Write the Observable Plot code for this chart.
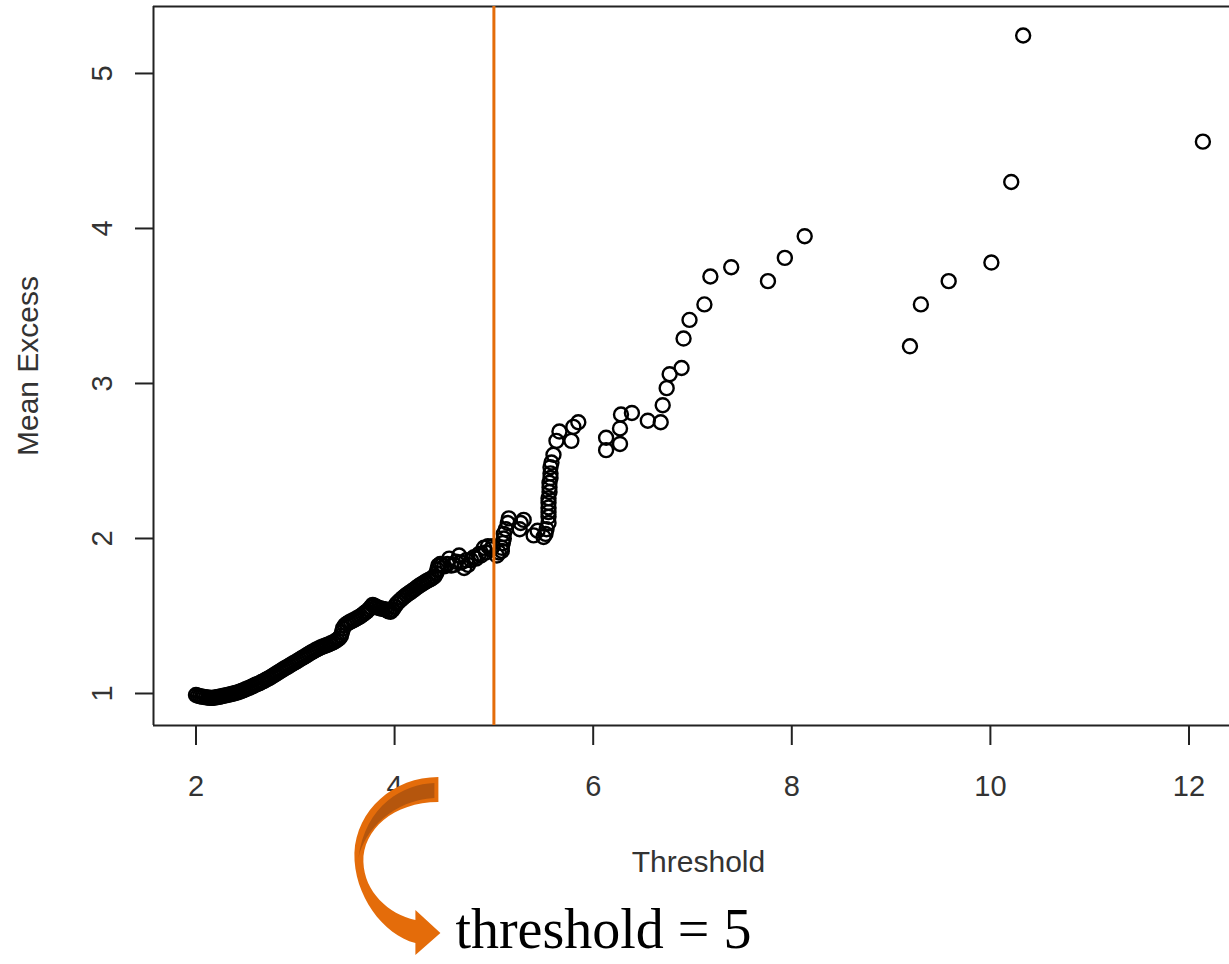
<!DOCTYPE html>
<html>
<head>
<meta charset="utf-8">
<script src="https://cdn.jsdelivr.net/npm/d3@7"></script>
<script src="https://cdn.jsdelivr.net/npm/@observablehq/plot@0.6"></script>
<style>
  html, body { margin: 0; padding: 0; background: #fff; }
  #chart { width: 1229px; height: 964px; overflow: hidden; }
</style>
</head>
<body>
<div id="chart"></div>
<script>
// Mean excess plot: threshold (x) vs mean excess (y)
const threshold = [
  2.00, 2.02, 2.04, 2.06, 2.08, 2.10, 2.12, 2.14, 2.16, 2.18,
  2.20, 2.22, 2.24, 2.26, 2.28, 2.30, 2.32, 2.34, 2.36, 2.38,
  2.40, 2.42, 2.44, 2.46, 2.48, 2.50, 2.52, 2.54, 2.56, 2.58,
  2.60, 2.62, 2.64, 2.66, 2.68, 2.70, 2.72, 2.74, 2.76, 2.78,
  2.80, 2.82, 2.84, 2.86, 2.88, 2.90, 2.92, 2.94, 2.96, 2.98,
  3.00, 3.02, 3.04, 3.06, 3.08, 3.10, 3.12, 3.14, 3.16, 3.18,
  3.20, 3.22, 3.24, 3.26, 3.28, 3.30, 3.32, 3.34, 3.36, 3.38,
  3.40, 3.42, 3.44, 3.46, 3.47, 3.48, 3.50, 3.52, 3.54, 3.56,
  3.58, 3.60, 3.62, 3.64, 3.66, 3.68, 3.70, 3.72, 3.74, 3.76,
  3.78, 3.80, 3.82, 3.84, 3.86, 3.88, 3.90, 3.92, 3.94, 3.96,
  3.98, 4.00, 4.02, 4.04, 4.06, 4.08, 4.10, 4.12, 4.14, 4.16,
  4.18, 4.20, 4.22, 4.24, 4.26, 4.28, 4.30, 4.32, 4.34, 4.36,
  4.38, 4.40, 4.42, 4.43, 4.44, 4.46, 4.48, 4.50, 4.53, 4.55,
  4.57, 4.60, 4.62, 4.65, 4.67, 4.70, 4.72, 4.74, 4.77, 4.80,
  4.82, 4.85, 4.87, 4.90, 4.92, 4.94, 4.97, 4.99,
  5.03, 5.05, 5.08, 5.08, 5.09, 5.10, 5.10, 5.12, 5.14, 5.15,
  5.26, 5.27, 5.30, 5.40, 5.44, 5.50, 5.52, 5.53,
  5.55, 5.55, 5.55, 5.55, 5.55, 5.55, 5.56, 5.56, 5.56, 5.57,
  5.57, 5.57, 5.58, 5.60, 5.63, 5.66, 5.78, 5.80, 5.85,
  6.13, 6.13, 6.27, 6.27, 6.28, 6.39, 6.55, 6.68, 6.70, 6.74,
  6.77, 6.89, 6.91, 6.97, 7.12, 7.18, 7.39, 7.76, 7.93, 8.13,
  9.19, 9.30, 9.58, 10.01, 10.21, 10.33, 12.14
];
const meanExcess = [
  0.990, 0.985, 0.982, 0.980, 0.978, 0.975, 0.974, 0.972, 0.972, 0.973,
  0.975, 0.977, 0.979, 0.982, 0.985, 0.988, 0.991, 0.994, 0.997, 1.000,
  1.003, 1.007, 1.012, 1.017, 1.022, 1.027, 1.032, 1.038, 1.044, 1.050,
  1.056, 1.061, 1.067, 1.074, 1.080, 1.087, 1.094, 1.101, 1.109, 1.117,
  1.125, 1.133, 1.141, 1.149, 1.157, 1.165, 1.172, 1.180, 1.188, 1.195,
  1.202, 1.210, 1.218, 1.226, 1.233, 1.241, 1.249, 1.257, 1.265, 1.272,
  1.279, 1.286, 1.292, 1.298, 1.303, 1.308, 1.313, 1.318, 1.324, 1.330,
  1.337, 1.345, 1.355, 1.372, 1.395, 1.420, 1.440, 1.450, 1.458, 1.465,
  1.472, 1.478, 1.485, 1.492, 1.500, 1.510, 1.520, 1.530, 1.542, 1.556,
  1.572, 1.565, 1.558, 1.552, 1.549, 1.546, 1.543, 1.538, 1.530, 1.527,
  1.540, 1.560, 1.578, 1.592, 1.603, 1.615, 1.626, 1.636, 1.645, 1.654,
  1.663, 1.672, 1.682, 1.692, 1.700, 1.708, 1.716, 1.724, 1.731, 1.738,
  1.745, 1.755, 1.775, 1.800, 1.825, 1.835, 1.830, 1.820, 1.835, 1.870,
  1.825, 1.830, 1.850, 1.890, 1.845, 1.810, 1.860, 1.830, 1.860, 1.880,
  1.870, 1.900, 1.890, 1.940, 1.910, 1.950, 1.930, 1.950,
  1.890, 1.910, 1.920, 1.940, 1.970, 2.000, 2.030, 2.060, 2.100, 2.130,
  2.060, 2.100, 2.120, 2.020, 2.050, 2.010, 2.030, 2.060,
  2.100, 2.140, 2.170, 2.200, 2.230, 2.260, 2.300, 2.330, 2.360, 2.390,
  2.420, 2.460, 2.490, 2.540, 2.630, 2.690, 2.630, 2.720, 2.750,
  2.570, 2.650, 2.610, 2.710, 2.800, 2.810, 2.760, 2.750, 2.860, 2.970,
  3.060, 3.100, 3.290, 3.410, 3.510, 3.690, 3.750, 3.660, 3.810, 3.950,
  3.240, 3.510, 3.660, 3.780, 4.300, 5.245, 4.560
];
const xTicks = [2, 4, 6, 8, 10, 12];
const yTicks = [1, 2, 3, 4, 5];
const chosenThreshold = [5];
const xLabel = "Threshold";
const yLabel = "Mean Excess";
const annotation = "threshold = 5";

const data = threshold.map((t, i) => ({t, m: meanExcess[i]}));
const xDomain = [1.572, 12.408];
const yDomain = [0.7935, 5.432];
const orange = "#E46C0A";
const ink = "#222";

const plot = Plot.plot({
  width: 1229,
  height: 964,
  marginLeft: 153,
  marginRight: 0,
  marginTop: 6,
  marginBottom: 239,
  x: {domain: xDomain},
  y: {domain: yDomain},
  style: {fontFamily: "'Liberation Sans', Arial, sans-serif", background: "#fff", color: ink},
  marks: [
    Plot.ruleX([xDomain[0]], {stroke: ink, strokeWidth: 2}),
    Plot.ruleY([yDomain[0], yDomain[1]], {stroke: ink, strokeWidth: 2}),
    Plot.axisX({ticks: xTicks, tickSize: 20, tickPadding: 30, fontSize: 29, strokeWidth: 2, label: null, stroke: ink, fill: "#333"}),
    Plot.axisY({ticks: yTicks, tickSize: 18, tickFormat: () => "", strokeWidth: 2, label: null, stroke: ink}),
    Plot.text(yTicks, {y: d => d, text: d => String(d), frameAnchor: "left", dx: -51, rotate: -90, fontSize: 29, fill: "#333", textAnchor: "middle", lineAnchor: "middle"}),
    Plot.text([yLabel], {text: d => d, frameAnchor: "left", dx: -125, rotate: -90, fontSize: 30, fill: "#333", textAnchor: "middle", lineAnchor: "middle"}),
    Plot.text([xLabel], {text: d => d, frameAnchor: "bottom", dx: 7, dy: 137, fontSize: 30, fill: "#333", textAnchor: "middle", lineAnchor: "middle"}),
    Plot.dot(data, {x: "t", y: "m", r: 7, stroke: "#000", strokeWidth: 2.4, fill: "none"}),
    Plot.ruleX(chosenThreshold, {stroke: orange, strokeWidth: 3})
  ]
});

document.getElementById("chart").appendChild(plot);

// Annotation: curved arrow + "threshold = 5", positioned relative to the chosen threshold
const sx = plot.scale("x");
const ax = sx.apply(chosenThreshold[0]) - 495; // offset from reference anchor
const svg = d3.select(plot);
const g = svg.append("g").attr("transform", `translate(${ax},0)`);
g.append("path")
  .attr("d", "M440,777 C395,777 358,810 356,853 C355,895 385,935 417,943 L417,955 L442,933 L417,910 L417,920 C390,914 366,892 365,862 C364,830 395,802 440,802 Z")
  .attr("fill", orange);
g.append("path")
  .attr("d", "M436,783 C405,784 367,805 360,858 C366,830 395,800 436,798 Z")
  .attr("fill", "#B5560D");
g.append("text")
  .attr("x", 457)
  .attr("y", 948)
  .attr("text-anchor", "start")
  .attr("font-family", "'Liberation Serif', 'Times New Roman', serif")
  .attr("font-size", 56)
  .attr("fill", "#000")
  .text(annotation);
</script>
</body>
</html>
